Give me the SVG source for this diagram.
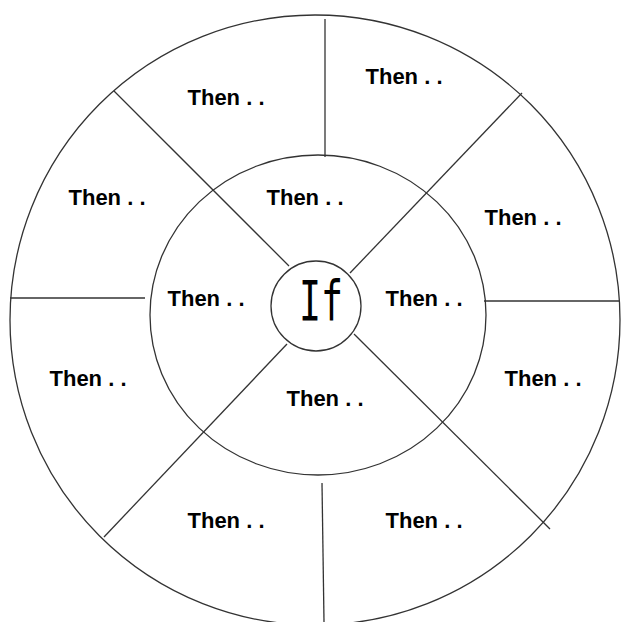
<svg xmlns="http://www.w3.org/2000/svg" width="621" height="622" viewBox="0 0 621 622">
<style>
.ring{fill:none;stroke:#333;stroke-width:1.3}
.ln{stroke:#333;stroke-width:1.3;fill:none}
.t{font-family:"Liberation Sans",Arial,sans-serif;font-weight:bold;font-size:22px;fill:#000;text-anchor:middle}
.if{font-family:"DejaVu Sans Mono",monospace;font-size:56px;fill:#000;text-anchor:middle}
</style>
<rect width="621" height="622" fill="#fff"/>
<g id="outer-ring"><circle class="ring" cx="315" cy="320" r="305"/></g>
<g id="middle-ring"><ellipse class="ring" cx="318" cy="315" rx="168" ry="160"/></g>
<g id="connectors">
<line class="ln" x1="325" y1="19" x2="325" y2="157"/>
<line class="ln" x1="322" y1="483" x2="324" y2="622"/>
<line class="ln" x1="10" y1="298" x2="145" y2="298"/>
<line class="ln" x1="484" y1="301" x2="619" y2="301"/>
<line class="ln" x1="114" y1="91" x2="289" y2="266"/>
<line class="ln" x1="522" y1="93" x2="350" y2="273"/>
<line class="ln" x1="287" y1="344" x2="104" y2="537"/>
<line class="ln" x1="354" y1="334" x2="550" y2="529"/>
</g>
<g id="center"><circle cx="316" cy="306" r="45" fill="#fff" stroke="#333" stroke-width="1.3"/><text class="if" x="321" y="320" textLength="44" lengthAdjust="spacingAndGlyphs">If</text></g>
<g id="n1"><text class="t" x="226" y="105">Then . .</text></g>
<g id="n2"><text class="t" x="404" y="84">Then . .</text></g>
<g id="n3"><text class="t" x="107" y="205">Then . .</text></g>
<g id="n4"><text class="t" x="305" y="205">Then . .</text></g>
<g id="n5"><text class="t" x="523" y="225">Then . .</text></g>
<g id="n6"><text class="t" x="206" y="306">Then . .</text></g>
<g id="n7"><text class="t" x="424" y="306">Then . .</text></g>
<g id="n8"><text class="t" x="88" y="386">Then . .</text></g>
<g id="n9"><text class="t" x="543" y="386">Then . .</text></g>
<g id="n10"><text class="t" x="325" y="406">Then . .</text></g>
<g id="n11"><text class="t" x="226" y="528">Then . .</text></g>
<g id="n12"><text class="t" x="424" y="528">Then . .</text></g>
</svg>
